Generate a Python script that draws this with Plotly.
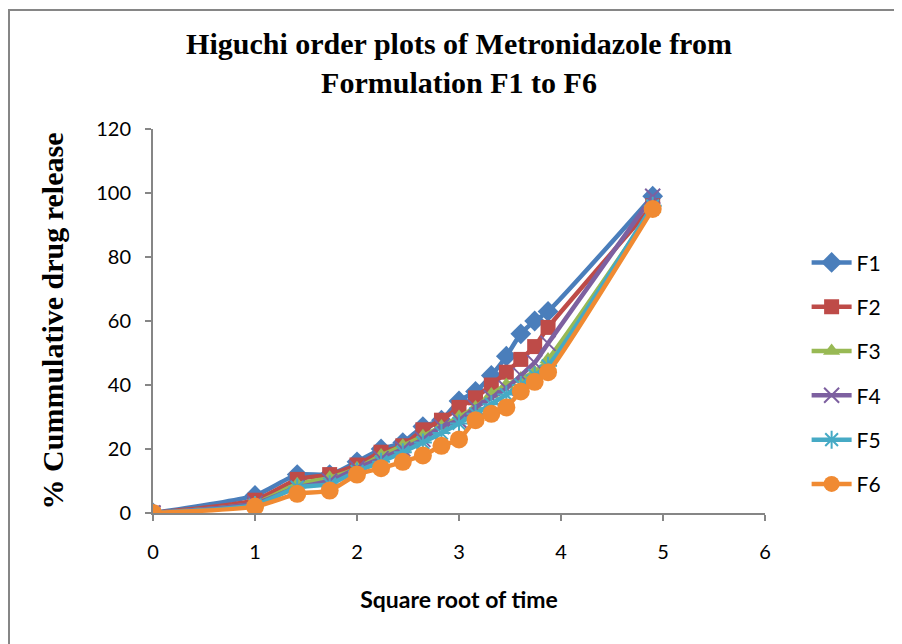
import plotly.graph_objects as go

x_sqrt_time = [0, 1, 1.414, 1.732, 2, 2.236, 2.449, 2.646, 2.828, 3, 3.162, 3.317, 3.464, 3.606, 3.742, 3.873, 4.899]

f1 = [0, 5.5, 12, 12, 16, 20, 22, 27, 29, 35, 38, 43, 49, 56, 60, 63, 99]
f2 = [0, 4, 10.5, 12, 15, 19, 21, 26, 29, 33, 36, 40, 44, 48, 52, 58, 96]
f3 = [0, 3, 9, 11, 14, 18, 21, 24, 27, 30, 33, 37, 40, 42, 44, 48, 95]
f4 = [0, 3, 8, 10, 14, 17, 20, 23, 27, 29, 33, 36, 39, 43, 47, 53, 99]
f5 = [0, 2.5, 8, 9, 13, 16, 19, 22, 25, 28, 31, 34, 37, 40, 43, 46, 96]
f6 = [0, 2, 6, 7, 12, 14, 16, 18, 21, 23, 29, 31, 33, 38, 41, 44, 95]

series_names = ["F1", "F2", "F3", "F4", "F5", "F6"]
series_values = [f1, f2, f3, f4, f5, f6]
colors = ["#4A7EBB", "#BE4B48", "#98B954", "#7D60A0", "#46AAC5", "#F08A32"]
symbols = ["diamond", "square", "triangle-up", "x-thin", "asterisk", "circle"]
sizes = [16, 15, 15, 15, 15, 18]

# page body has an 8px margin; plot area target on screen: x 153..765, y 129..513
L, T = 145, 121
PW, PH = 612, 384

fig = go.Figure()
for i, (name, vals) in enumerate(zip(series_names, series_values)):
    thin = symbols[i] in ("x-thin", "asterisk")
    fig.add_trace(go.Scatter(
        x=x_sqrt_time, y=vals, name=name, mode="lines+markers",
        legendgroup=name,
        line=dict(color=colors[i], width=4.5, shape="spline", smoothing=0.6),
        marker=dict(symbol=symbols[i], size=sizes[i], color=colors[i],
                    line=dict(color=colors[i], width=2 if thin else 0)),
    ))

fig.update_layout(
    width=902, height=644,
    margin=dict(l=L, r=902 - L - PW, t=T, b=644 - T - PH),
    paper_bgcolor="white", plot_bgcolor="white",
    title=dict(text="<b>Higuchi order plots of Metronidazole from<br>Formulation F1 to F6</b>",
               x=451 / 902, xanchor="center", y=1 - 46 / 644, yanchor="middle",
               font=dict(family="Liberation Serif", size=30, color="black")),
    font=dict(family="Lato", size=20, color="black"),
    showlegend=True,
    legend=dict(x=1.068, y=0.705, xanchor="left", yanchor="top",
                tracegroupgap=14, font=dict(family="Lato", size=21, color="black"),
                itemwidth=40, bgcolor="rgba(0,0,0,0)"),
    xaxis=dict(range=[0, 6], tickvals=[0, 1, 2, 3, 4, 5, 6], showgrid=False, zeroline=False,
               showline=True, linecolor="#868686", linewidth=2, ticks="outside", ticklen=6,
               tickcolor="#868686", tickwidth=2, ticklabelstandoff=14,
               tickfont=dict(family="Lato", size=20),
               title=dict(text="<b>Square root of time</b>", standoff=30,
                          font=dict(family="Lato", size=23, color="black"))),
    yaxis=dict(range=[0, 120], tickvals=[0, 20, 40, 60, 80, 100, 120], showgrid=False, zeroline=False,
               showline=True, linecolor="#868686", linewidth=2, ticks="outside", ticklen=6,
               tickcolor="#868686", tickwidth=2, ticklabelstandoff=10,
               tickfont=dict(family="Lato", size=20),
               title=dict(text="<b>% Cummulative drug release</b>", standoff=24,
                          font=dict(family="Liberation Serif", size=30, color="black"))),
)

# chart border (left and top visible)
fig.add_shape(type="line", xref="paper", yref="paper",
              x0=(0 - L) / PW, x1=(894 - L) / PW,
              y0=(T + PH - 2) / PH, y1=(T + PH - 2) / PH,
              line=dict(color="#868686", width=2))
fig.add_shape(type="line", xref="paper", yref="paper",
              x0=(1 - L) / PW, x1=(1 - L) / PW,
              y0=(T + PH - 2) / PH, y1=(T + PH - 660) / PH,
              line=dict(color="#868686", width=2))

fig.write_html("out.html", config={"displayModeBar": False})
